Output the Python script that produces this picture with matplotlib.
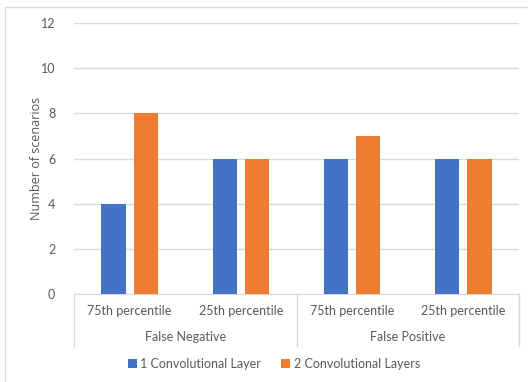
import matplotlib
matplotlib.use("Agg")
import matplotlib.pyplot as plt
import numpy as np
from matplotlib.lines import Line2D
from matplotlib.patches import Rectangle

# wyniki: liczba scenariuszy dla każdej konfiguracji sieci
groups = ["False Negative", "False Positive"]
percentiles = ["75th percentile", "25th percentile", "75th percentile", "25th percentile"]
series_names = ["1 Convolutional Layer", "2 Convolutional Layers"]
one_layer = [4, 6, 6, 6]
two_layers = [8, 6, 7, 6]

BLUE = "#4472C4"
ORANGE = "#ED7D31"
TEXT = "#595959"
GRID = "#D9D9D9"

plt.rcParams["font.family"] = ["Lato", "DejaVu Sans"]

fig = plt.figure(figsize=(5.28, 3.82), dpi=100)
ax = fig.add_axes([74 / 528, 88 / 382, 445 / 528, 271 / 382])

x = np.arange(len(percentiles))
w = 0.22
off = 0.145
ax.bar(x - off, one_layer, w, color=BLUE, label=series_names[0], zorder=3)
ax.bar(x + off, two_layers, w, color=ORANGE, label=series_names[1], zorder=3)

ax.set_xlim(-0.5, len(percentiles) - 0.5)
ax.set_ylim(0, 12)
ax.set_yticks(range(0, 13, 2))
ax.yaxis.grid(True, color=GRID, linewidth=1, zorder=0)
ax.tick_params(axis="y", length=0, pad=13.5, labelsize=9, labelcolor=TEXT)
ax.set_xticks([])
for s in ["top", "right", "left"]:
    ax.spines[s].set_visible(False)
ax.spines["bottom"].set_color(GRID)

ax.set_ylabel("Number of scenarios", fontsize=9, color=TEXT, va="center",
              family=["Open Sans", "DejaVu Sans"])
ax.yaxis.set_label_coords(-37 / 445, 0.5)

# dwupoziomowa oś kategorii
trans = ax.get_xaxis_transform()
for xi, lab in zip(x, percentiles):
    ax.text(xi, -0.063, lab, transform=trans, ha="center", va="center",
            fontsize=9, color=TEXT)
for gi, g in enumerate(groups):
    ax.text(gi * 2 + 0.5, -0.16, g, transform=trans, ha="center", va="center",
            fontsize=9, color=TEXT)
for xs in [-0.5, 1.5, 3.5]:
    ax.add_line(Line2D([xs, xs], [0, -0.192], transform=trans, color=GRID,
                       linewidth=1, clip_on=False))

leg = fig.legend(loc="center", bbox_to_anchor=(274 / 528, 1 - 364 / 382), ncol=2,
                 frameon=False, fontsize=9, handlelength=0.7, handleheight=0.7,
                 handletextpad=0.3, columnspacing=1.6)
for t in leg.get_texts():
    t.set_color(TEXT)

# ramka wokół wykresu
fig.patches.append(Rectangle((5 / 528, -0.05), 1.0, 1 - 7 / 382 + 0.05,
                             transform=fig.transFigure, fill=False,
                             edgecolor=GRID, linewidth=1))

fig.savefig("out.png", dpi=100, facecolor="white")
